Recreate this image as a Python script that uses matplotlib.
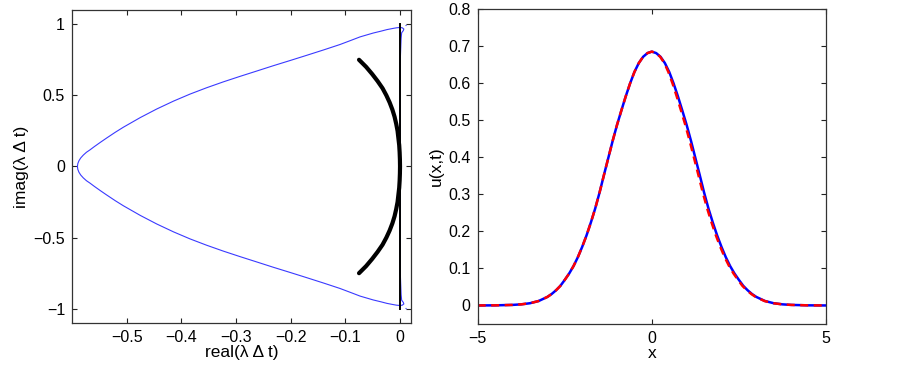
import matplotlib
matplotlib.use("Agg")
import matplotlib.pyplot as plt

plt.rcParams['font.family'] = ['Liberation Sans', 'DejaVu Sans']

# ---- left panel data: stability region boundary (upper half)
stab_re_upper = [-0.5900, -0.5893, -0.5873, -0.5840, -0.5793, -0.5735, -0.5670, -0.5590,
                 -0.5480, -0.5370, -0.5210, -0.5060, -0.4750, -0.4450, -0.4140, -0.3840,
                 -0.3540, -0.3230, -0.2930, -0.2620, -0.2320, -0.2000,
                 -0.1710, -0.1400, -0.1100, -0.0900, -0.0730, -0.0490, -0.0350, -0.0240,
                 -0.0120, -0.0060, 0.0000, 0.0040, 0.0070, 0.0060, 0.0030, 0.0020,
                 0.0010, 0.0000]
stab_im_upper = [0.000, 0.020, 0.040, 0.060, 0.080, 0.100, 0.117, 0.140,
                 0.170, 0.199, 0.240, 0.276, 0.344, 0.404, 0.460, 0.509,
                 0.553, 0.595, 0.633, 0.671, 0.708, 0.746,
                 0.781, 0.819, 0.857, 0.886, 0.911, 0.938, 0.951, 0.962,
                 0.971, 0.975, 0.977, 0.975, 0.966, 0.955, 0.940, 0.900,
                 0.800, 0.700]

# eigenvalue arc (upper half)
arc_im_upper = [0.75, 0.70, 0.65, 0.60, 0.55, 0.50, 0.45, 0.40, 0.35, 0.30,
                0.25, 0.20, 0.15, 0.10, 0.05, 0.00]
arc_re_upper = [-0.075, -0.062, -0.051, -0.041, -0.032, -0.025, -0.019, -0.014,
                -0.010, -0.007, -0.0045, -0.003, -0.0015, -0.0007, -0.0002, 0.0]

# imaginary axis segment
vline_re = [0.0, 0.0]
vline_im = [-1.0, 1.0]

# ---- right panel data: u(x,t), right half (x >= 0), mirrored for x < 0
x_half = [0.0, 0.125, 0.25, 0.375, 0.5, 0.625, 0.75, 0.875, 1.0, 1.125, 1.25, 1.375,
          1.5, 1.625, 1.75, 1.875, 2.0, 2.125, 2.25, 2.375, 2.5, 2.625, 2.75, 2.875,
          3.0, 3.25, 3.5, 3.75, 4.0, 4.5, 5.0]
u_half = [0.685, 0.681, 0.671, 0.654, 0.630, 0.599, 0.564, 0.526, 0.487, 0.444, 0.398,
          0.352, 0.305, 0.262, 0.224, 0.189, 0.158, 0.130, 0.106, 0.086, 0.069, 0.053,
          0.041, 0.031, 0.023, 0.012, 0.006, 0.003, 0.0015, 0.0003, 0.0]
# exact solution: slightly shifted on the right flank
x_half_exact = [0.0, 0.12, 0.24, 0.36, 0.475, 0.595, 0.715, 0.838, 0.962, 1.087, 1.212,
                1.337, 1.462, 1.588, 1.714, 1.84, 1.966, 2.093, 2.22, 2.347, 2.474, 2.6,
                2.727, 2.855, 2.98, 3.235, 3.49, 3.75, 4.0, 4.5, 5.0]

left_xticks = [-0.5, -0.4, -0.3, -0.2, -0.1, 0.0]
left_xticklabels = ['\u22120.5', '\u22120.4', '\u22120.3', '\u22120.2', '\u22120.1', '0']
left_yticks = [-1.0, -0.5, 0.0, 0.5, 1.0]
left_yticklabels = ['\u22121', '\u22120.5', '0', '0.5', '1']
right_xticks = [-5, 0, 5]
right_xticklabels = ['\u22125', '0', '5']
right_yticks = [0.0, 0.1, 0.2, 0.3, 0.4, 0.5, 0.6, 0.7, 0.8]
right_yticklabels = ['0', '0.1', '0.2', '0.3', '0.4', '0.5', '0.6', '0.7', '0.8']

fig = plt.figure(figsize=(9.03, 3.67), dpi=100)
ax1 = fig.add_axes([0.0797, 0.1199, 0.3754, 0.8529])
ax2 = fig.add_axes([0.529, 0.1172, 0.3857, 0.8583])

stab_re = stab_re_upper + stab_re_upper[::-1]
stab_im = stab_im_upper + [-v for v in stab_im_upper[::-1]]
arc_re = arc_re_upper + arc_re_upper[::-1][1:]
arc_im = arc_im_upper + [-v for v in arc_im_upper[::-1][1:]]

ax1.plot(stab_re, stab_im, color='#3a3aff', lw=0.8)
ax1.plot([0.010, 0.013], [0.997, 0.997], color='#3a3aff', lw=0.8, ls=':')
ax1.plot([0.010, 0.013], [-0.997, -0.997], color='#3a3aff', lw=0.8, ls=':')
ax1.plot(vline_re, vline_im, color='black', lw=1.4)
ax1.plot(arc_re, arc_im, color='black', lw=3.0, solid_capstyle='round')
ax1.set_xlim(-0.6, 0.02)
ax1.set_ylim(-1.1, 1.1)
ax1.set_xticks(left_xticks)
ax1.set_xticklabels(left_xticklabels)
ax1.set_yticks(left_yticks)
ax1.set_yticklabels(left_yticklabels)
ax1.set_xlabel('real(\u03bb \u0394 t)', fontsize=12.5, labelpad=0)
ax1.set_ylabel('imag(\u03bb \u0394 t)', fontsize=12.5, labelpad=3)

x_num = [-v for v in x_half[::-1]] + x_half[1:]
u_num = u_half[::-1] + u_half[1:]
x_ex = [-v for v in x_half[::-1]] + x_half_exact[1:]
u_ex = u_half[::-1] + u_half[1:]

ax2.plot(x_num, u_num, color='#0000ff', lw=1.8)
ax2.plot(x_ex, u_ex, color='#ff0000', lw=1.8, ls=(0, (3.2, 2.2)))
ax2.set_xlim(-5, 5)
ax2.set_ylim(-0.05, 0.8)
ax2.set_xticks(right_xticks)
ax2.set_xticklabels(right_xticklabels)
ax2.set_yticks(right_yticks)
ax2.set_yticklabels(right_yticklabels)
ax2.set_xlabel('x', fontsize=12.5, labelpad=0)
ax2.set_ylabel('u(x,t)', fontsize=12.5, labelpad=3)

for ax in (ax1, ax2):
    ax.tick_params(direction='in', length=3.5, width=0.8, top=True, right=True,
                   labelsize=11.5, colors='#222222', labelcolor='black', pad=5)
    for s in ax.spines.values():
        s.set_color('#333333')
        s.set_linewidth(0.9)

fig.savefig('out.png', dpi=100)
